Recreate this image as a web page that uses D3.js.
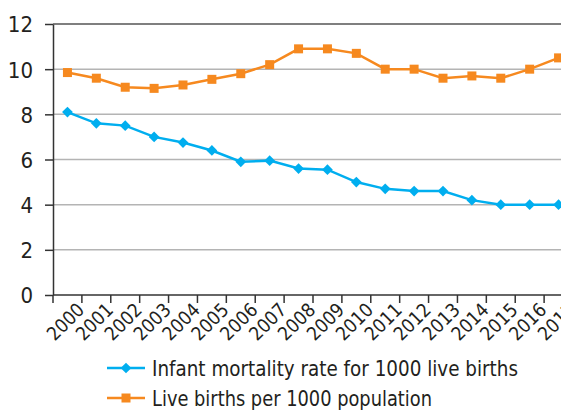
<!DOCTYPE html>
<html>
<head>
<meta charset="utf-8">
<script src="https://cdn.jsdelivr.net/npm/d3@7"></script>
<style>
  body { margin: 0; background: #fff; }
  text { font-family: "DejaVu Sans", sans-serif; font-stretch: condensed; fill: #231f20; }
</style>
</head>
<body>
<svg id="chart" width="561" height="410"></svg>
<script>
var years = ["2000", "2001", "2002", "2003", "2004", "2005", "2006", "2007", "2008",
    "2009", "2010", "2011", "2012", "2013", "2014", "2015", "2016", "2017"];
var infantMortality = [8.1, 7.6, 7.5, 7.0, 6.75, 6.4, 5.9, 5.95, 5.6, 5.55, 5.0, 4.7, 4.6, 4.6, 4.2, 4.0, 4.0, 4.0];
var liveBirths = [9.85, 9.6, 9.2, 9.15, 9.3, 9.55, 9.8, 10.2, 10.9, 10.9, 10.7, 10.0, 10.0, 9.6, 9.7, 9.6, 10.0, 10.5];
var yTicks = [0, 2, 4, 6, 8, 10, 12];
var seriesNames = ["Infant mortality rate for 1000 live births", "Live births per 1000 population"];

var svg1 = d3.select("#chart");
var margin = {left: 53, top: 24};
var width = 520, height = 271;

var blue = "#00aeef", orange = "#f6891f";

var x = d3.scaleBand()
    .domain(years)
    .range([margin.left, margin.left + width]);

var y = d3.scaleLinear()
    .domain([0, 12])
    .range([margin.top + height, margin.top]);

// grid lines
svg1.selectAll(".grid")
    .data(yTicks.filter(d => d > 0))
    .enter()
    .append("line")
    .attr("x1", margin.left)
    .attr("x2", margin.left + width)
    .attr("y1", d => y(d))
    .attr("y2", d => y(d))
    .attr("stroke", d => d === 12 ? "#555" : "#b4b4b4")
    .attr("stroke-width", 1.5);

// Y axis
var yAxis = svg1.append("g")
    .attr("transform", "translate(" + margin.left + ",0)")
    .call(d3.axisLeft(y).tickValues(yTicks).tickSize(8).tickPadding(12).tickSizeOuter(0));
yAxis.select(".domain").attr("stroke", "#333").attr("stroke-width", 1.5);
yAxis.selectAll(".tick line").attr("stroke", "#333").attr("stroke-width", 1.5);
yAxis.selectAll(".tick text")
    .style("font-size", "22px")
    .attr("dy", "0.36em");

// X axis: ticks at category boundaries
var xAxis = svg1.append("g")
    .attr("transform", "translate(0," + (margin.top + height) + ")");
xAxis.append("line")
    .attr("x1", margin.left)
    .attr("x2", margin.left + width)
    .attr("stroke", "#333")
    .attr("stroke-width", 1.5);
xAxis.selectAll(".xtick")
    .data(years)
    .enter()
    .append("line")
    .attr("x1", d => x(d))
    .attr("x2", d => x(d))
    .attr("y1", 0)
    .attr("y2", 8)
    .attr("stroke", "#333")
    .attr("stroke-width", 1.5);
xAxis.selectAll(".xlabel")
    .data(years)
    .enter()
    .append("text")
    .attr("transform", d => "translate(" + (x(d) + x.bandwidth() / 2 + 8) + ",6) rotate(-45)")
    .attr("text-anchor", "end")
    .attr("dy", "0.75em")
    .style("font-size", "19px")
    .text(d => d);

var line = d3.line()
    .x((d, i) => x(years[i]) + x.bandwidth() / 2)
    .y(d => y(d));

// Infant mortality
svg1.append("path")
    .datum(infantMortality)
    .attr("d", line)
    .attr("fill", "none")
    .attr("stroke", blue)
    .attr("stroke-width", 2.5);
svg1.selectAll(".diamond")
    .data(infantMortality)
    .enter()
    .append("rect")
    .attr("x", -3.8)
    .attr("y", -3.8)
    .attr("width", 7.6)
    .attr("height", 7.6)
    .attr("transform", (d, i) => "translate(" + (x(years[i]) + x.bandwidth() / 2) + "," + y(d) + ") rotate(45)")
    .attr("fill", blue);

// Live births
svg1.append("path")
    .datum(liveBirths)
    .attr("d", line)
    .attr("fill", "none")
    .attr("stroke", orange)
    .attr("stroke-width", 2.5);
svg1.selectAll(".square")
    .data(liveBirths)
    .enter()
    .append("rect")
    .attr("x", (d, i) => x(years[i]) + x.bandwidth() / 2 - 4.5)
    .attr("y", d => y(d) - 4.5)
    .attr("width", 9)
    .attr("height", 9)
    .attr("fill", orange);

// Legend
var legend = svg1.selectAll(".legend")
    .data(seriesNames)
    .enter()
    .append("g")
    .attr("transform", (d, i) => "translate(107," + (368 + i * 30) + ")");
legend.append("line")
    .attr("x1", 0)
    .attr("x2", 38)
    .attr("stroke", (d, i) => i === 0 ? blue : orange)
    .attr("stroke-width", 2.5);
legend.filter((d, i) => i === 0).append("rect")
    .attr("x", -3.8).attr("y", -3.8).attr("width", 7.6).attr("height", 7.6)
    .attr("transform", "translate(19,0) rotate(45)")
    .attr("fill", blue);
legend.filter((d, i) => i === 1).append("rect")
    .attr("x", 14.5).attr("y", -4.5).attr("width", 9).attr("height", 9)
    .attr("fill", orange);
legend.append("text")
    .attr("x", 45)
    .attr("dy", "0.36em")
    .style("font-size", "22px")
    .attr("textLength", (d, i) => i === 0 ? 366 : 280)
    .attr("lengthAdjust", "spacingAndGlyphs")
    .text(d => d);
</script>
</body>
</html>
